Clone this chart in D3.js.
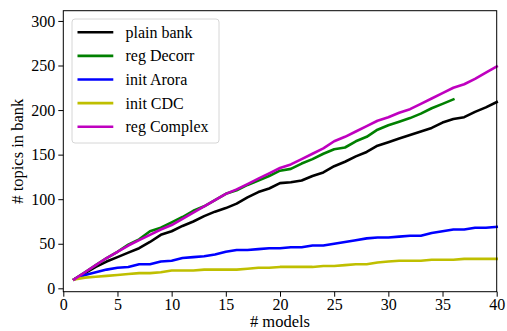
<!DOCTYPE html>
<html><head><meta charset="utf-8">
<script src="https://cdn.jsdelivr.net/npm/d3@7"></script>
<style>body{margin:0;background:#fff}svg{display:block}</style>
</head><body>
<script>
const xs = d3.range(1, 41);
const plainBank = [10,17,24,30,35,40,45,52,60,64,70,75,81,86,90,95,102,108,112,118,119,121,126,130,137,142,148,153,160,164,168,172,176,180,186,190,192,198,203,209];
const regDecorr = [10,18,26,34,41,49,55,64,68,74,80,87,92,99,106,110,116,121,126,132,134,140,145,151,156,158,165,170,178,183,187,191,196,202,207,212];
const initArora = [10,15,18,21,23,24,27,27,30,31,34,35,36,38,41,43,43,44,45,45,46,46,48,48,50,52,54,56,57,57,58,59,59,62,64,66,66,68,68,69];
const initCDC = [10,12,13,14,15,16,17,17,18,20,20,20,21,21,21,21,22,23,23,24,24,24,24,25,25,26,27,27,29,30,31,31,31,32,32,32,33,33,33,33];
const regComplex = [10,18,26,34,41,48,54,60,66,71,78,85,92,99,106,111,117,123,129,135,139,145,151,157,165,170,176,182,188,192,197,201,207,213,219,225,229,235,242,249];
const seriesNames = ["plain bank","reg Decorr","init Arora","init CDC","reg Complex"];
const seriesColors = ["#000000","#008000","#0000ff","#bfbf00","#bf00bf"];
const seriesValues = [plainBank, regDecorr, initArora, initCDC, regComplex];
const xTicks = [0,5,10,15,20,25,30,35,40];
const yTicks = [0,50,100,150,200,250,300];

const FONT = "'Liberation Serif', 'Times New Roman', serif";
const W = 507, H = 331;
const m = {l: 63.3, r: 10.3, t: 10.7, b: 39.3};
const svg = d3.select("body").append("svg").attr("width", W).attr("height", H);
const x = d3.scaleLinear().domain([0, 40]).range([m.l, W - m.r]);
const y = d3.scaleLinear().domain([-3.8, 311.5]).range([H - m.b, m.t]);

const line = d3.line().x(d => x(d[0])).y(d => y(d[1]));
seriesValues.forEach((vals, i) => {
  svg.append("path").datum(vals.map((v, j) => [xs[j], v]))
    .attr("d", line).attr("fill", "none").attr("stroke", seriesColors[i])
    .attr("stroke-width", 2.6).attr("stroke-linejoin", "round").attr("stroke-linecap", "square");
});

svg.append("rect").attr("x", m.l).attr("y", m.t).attr("width", W - m.r - m.l).attr("height", H - m.b - m.t)
  .attr("fill", "none").attr("stroke", "#000").attr("stroke-width", 1);

const xa = svg.append("g").attr("transform", `translate(0,${H - m.b})`)
  .call(d3.axisBottom(x).tickValues(xTicks).tickSize(5).tickPadding(2).tickFormat(d3.format("d")));
const ya = svg.append("g").attr("transform", `translate(${m.l},0)`)
  .call(d3.axisLeft(y).tickValues(yTicks).tickSize(5).tickPadding(3).tickFormat(d3.format("d")));
[xa, ya].forEach(a => {
  a.attr("font-family", FONT).attr("font-size", 16);
  a.select(".domain").remove();
  a.selectAll("text").style("font-family", FONT).style("font-size", "16px").attr("fill", "#000");
  a.selectAll("line").attr("stroke", "#000");
});

svg.append("text").attr("x", (m.l + W - m.r) / 2).attr("y", 327).attr("text-anchor", "middle")
  .style("font-family", FONT).style("font-size", "16.5px").text("# models");
svg.append("text").attr("transform", `translate(23,${(m.t + H - m.b) / 2}) rotate(-90)`)
  .attr("text-anchor", "middle").style("font-family", FONT).style("font-size", "16.5px").text("# topics in bank");

const lg = svg.append("g");
lg.append("rect").attr("x", 72).attr("y", 19).attr("width", 147).attr("height", 124).attr("rx", 3)
  .attr("fill", "#fff").attr("fill-opacity", 0.8).attr("stroke", "#d6d6d6").attr("stroke-width", 1);
seriesNames.forEach((n, i) => {
  const yy = 32.3 + i * 23.6;
  lg.append("line").attr("x1", 77.5).attr("x2", 113.3).attr("y1", yy).attr("y2", yy)
    .attr("stroke", seriesColors[i]).attr("stroke-width", 2.6);
  lg.append("text").attr("x", 125.5).attr("y", yy + 5.5).style("font-family", FONT).style("font-size", "16px").text(n);
});
</script>
</body></html>
